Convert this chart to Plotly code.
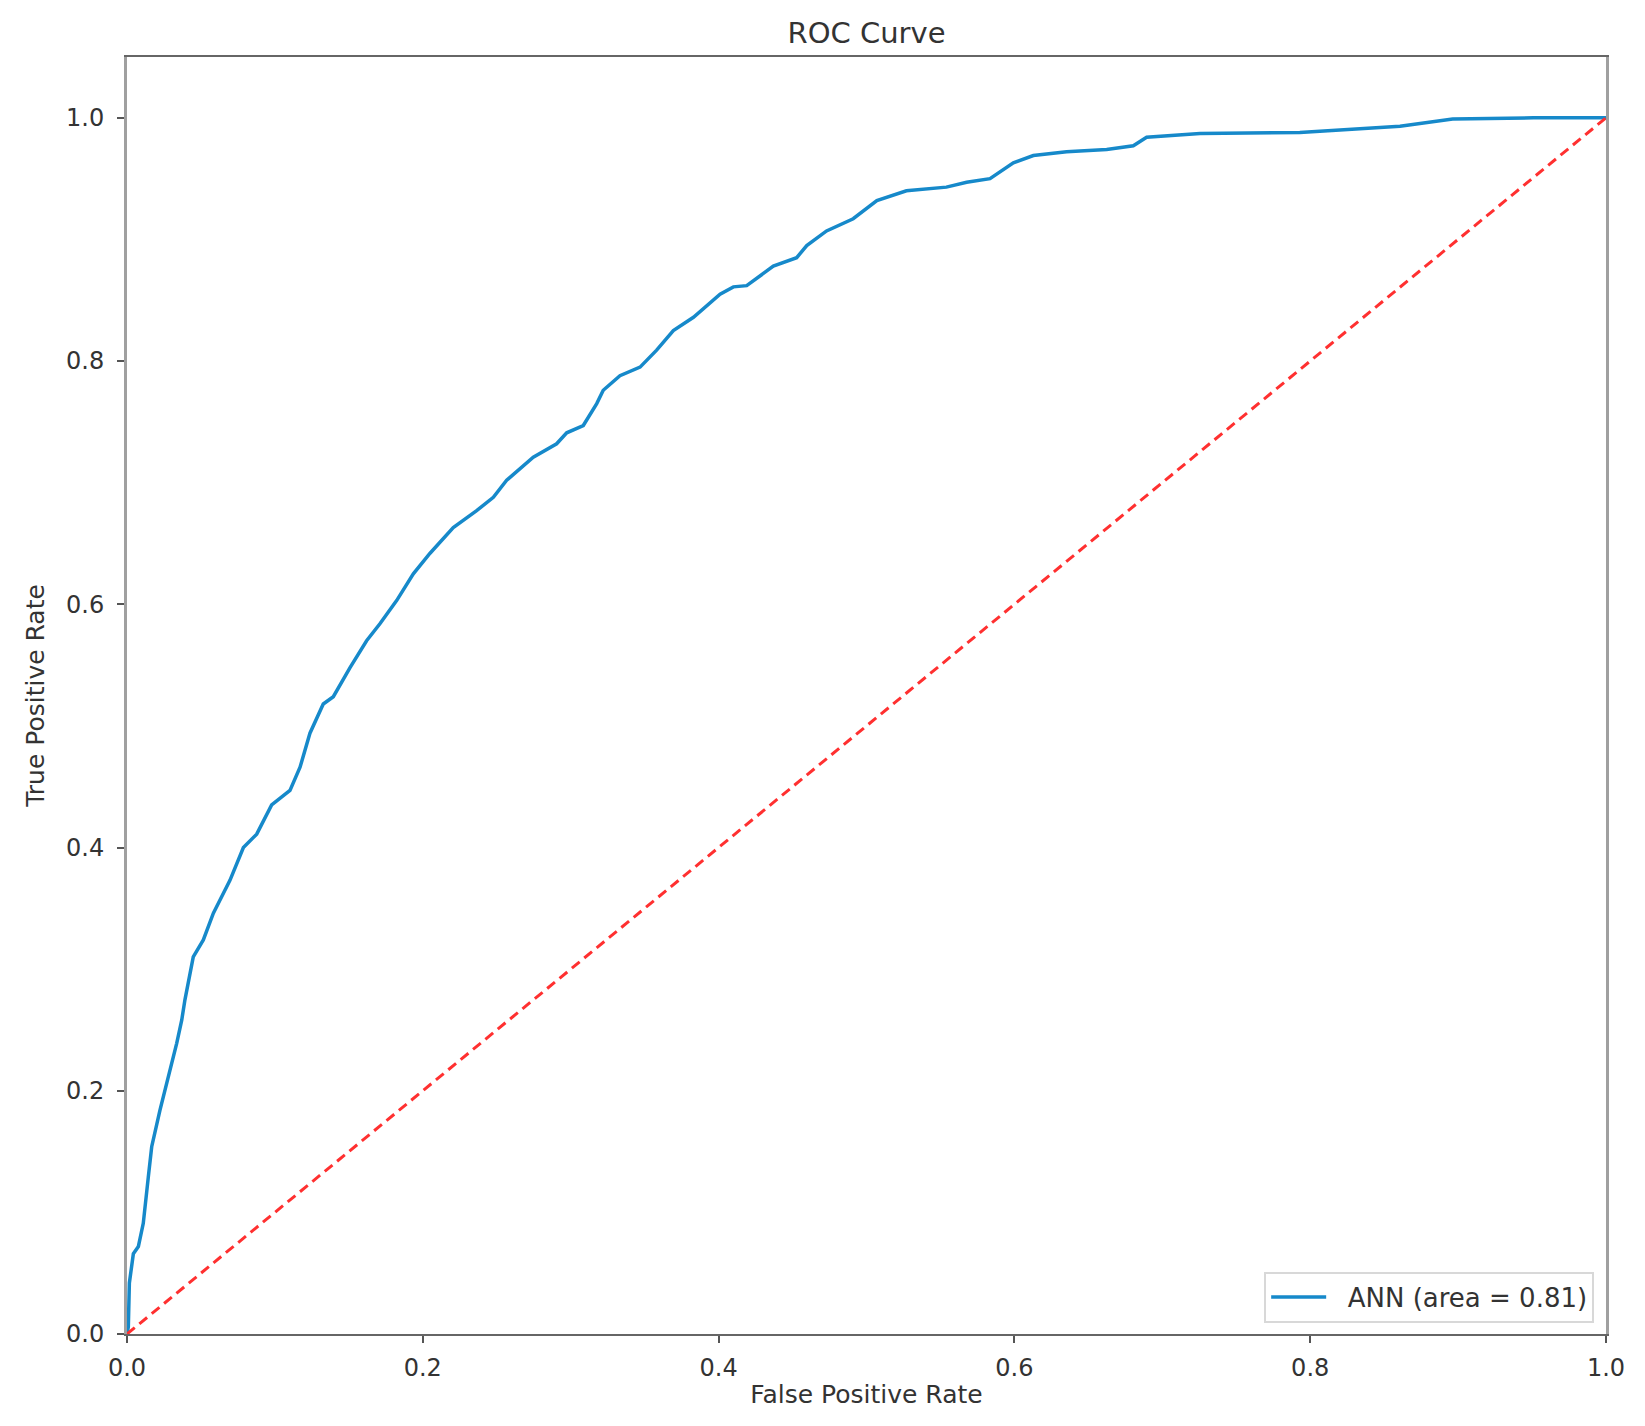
import plotly.graph_objects as go

# ROC curve points
fpr = [0, 0.0009, 0.0016, 0.0043, 0.0077, 0.011, 0.0144, 0.0167, 0.0223, 0.0257,
       0.0302, 0.0336, 0.037, 0.0392, 0.0448, 0.0516, 0.0584, 0.0696, 0.0787, 0.0877,
       0.0978, 0.1102, 0.117, 0.1237, 0.1327, 0.1395, 0.1508,
       0.162, 0.171, 0.1823, 0.1936, 0.2049, 0.2206, 0.2364, 0.2477, 0.2567, 0.2747,
       0.2905, 0.2973, 0.3085, 0.3176, 0.322, 0.3333, 0.3469, 0.3581, 0.3694, 0.383,
       0.401, 0.410, 0.419, 0.437, 0.4528, 0.4596, 0.473, 0.491, 0.507, 0.527,
       0.554, 0.5677, 0.5835, 0.5993, 0.6128, 0.6353, 0.6624, 0.6804, 0.6894, 0.7255,
       0.793, 0.8607, 0.8833, 0.8963, 0.951, 1.0]
tpr = [0, 0.006, 0.042, 0.066, 0.072, 0.091, 0.129, 0.154, 0.184, 0.2005,
       0.222, 0.239, 0.258, 0.275, 0.310, 0.324, 0.346, 0.373, 0.400, 0.411,
       0.435, 0.447, 0.466, 0.494, 0.518, 0.524, 0.548,
       0.570, 0.584, 0.603, 0.625, 0.642, 0.663, 0.677, 0.688, 0.702, 0.721,
       0.732, 0.741, 0.747, 0.765, 0.776, 0.788, 0.795, 0.809, 0.825, 0.836,
       0.855, 0.861, 0.862, 0.878, 0.885, 0.895, 0.907, 0.917, 0.932, 0.940,
       0.943, 0.947, 0.950, 0.963, 0.969, 0.972, 0.974, 0.977, 0.984, 0.987,
       0.988, 0.993, 0.997, 0.999, 1.0, 1.0]
diag_x = [0, 1]
diag_y = [0, 1]
tick_vals = [0.0, 0.2, 0.4, 0.6, 0.8, 1.0]
tick_text = ["0.0", "0.2", "0.4", "0.6", "0.8", "1.0"]
series_name = "ANN (area = 0.81)"

FONT = "DejaVu Sans"
TXT = "#333333"

fig = go.Figure()
fig.add_trace(go.Scatter(x=fpr, y=tpr, mode="lines",
                         name="\u00a0\u00a0" + series_name,
                         line=dict(color="#1689ca", width=3.5)))
fig.add_trace(go.Scatter(x=diag_x, y=diag_y, mode="lines", showlegend=False,
                         line=dict(color="#ff3030", width=3, dash="10px,6px")))

# page body has an 8px margin, so the figure is 8px smaller on each axis
fig.update_layout(
    width=1637, height=1418,
    margin=dict(l=119, r=39, t=49, b=92),
    paper_bgcolor="white", plot_bgcolor="white",
    font=dict(family=FONT, color=TXT, size=24),
    title=dict(text="ROC Curve", x=0.5, xref="paper", xanchor="center",
               y=1 - 25 / 1418, yref="container", yanchor="middle",
               font=dict(family=FONT, size=29, color=TXT)),
    legend=dict(x=0.992, y=0.009, xanchor="right", yanchor="bottom",
                bgcolor="white", bordercolor="#d8d8d8", borderwidth=2,
                itemwidth=55,
                font=dict(family=FONT, size=26, color=TXT)),
    showlegend=True,
)
fig.update_xaxes(range=[0, 1], tickvals=tick_vals, ticktext=tick_text,
                 showgrid=False, zeroline=False,
                 showline=True, mirror=True, linecolor="#666666", linewidth=2,
                 ticks="outside", ticklen=7, tickwidth=2, tickcolor="#555555",
                 ticklabelstandoff=4,
                 title=dict(text="False Positive Rate", standoff=5,
                            font=dict(family=FONT, size=25, color=TXT)))
fig.update_yaxes(range=[0, 1.05], tickvals=tick_vals, ticktext=tick_text,
                 showgrid=False, zeroline=False,
                 showline=True, mirror=True, linecolor="#a0a0a0", linewidth=3,
                 ticks="outside", ticklen=7, tickwidth=2, tickcolor="#555555",
                 ticklabelstandoff=8,
                 title=dict(text="True Positive Rate", standoff=15,
                            font=dict(family=FONT, size=25, color=TXT)))

fig.write_html("out.html")
